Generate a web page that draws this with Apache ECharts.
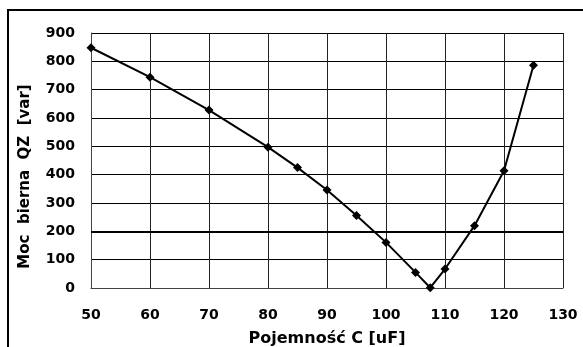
<!DOCTYPE html>
<html>
<head>
<meta charset="utf-8">
<script src="https://cdn.jsdelivr.net/npm/echarts@6/dist/echarts.min.js"></script>
<style>
  html, body { margin: 0; padding: 0; background: #fff; }
  #chart { width: 583px; height: 347px; }
</style>
</head>
<body>
<div id="chart"></div>
<script>
// Capacitance [uF] and reactive power [var]
const capacitance = [50, 60, 70, 80, 85, 90, 95, 100, 105, 107.5, 110, 115, 120, 125];
const reactivePower = [848, 744, 628, 497, 425, 346, 256, 161, 55, 1, 67, 220, 414, 786];
const referenceLevel = 200;

const xTitle = 'Pojemność C [uF]';
const yTitle = 'Moc  bierna  QZ  [var]';

const font = '"DejaVu Sans", Arial, sans-serif';

const chart = echarts.init(document.getElementById('chart'), null, { renderer: 'canvas' });
chart.setOption({
  animation: false,
  backgroundColor: '#fff',
  graphic: [{
    type: 'rect',
    shape: { x: 8, y: 10, width: 700, height: 500 },
    style: { fill: 'none', stroke: '#000', lineWidth: 2 },
    silent: true,
    z: 0
  }],
  grid: {
    left: 91, top: 33, right: 20, bottom: 59,
    containLabel: false, outerBoundsMode: 'none', show: false
  },
  xAxis: {
    type: 'value',
    min: 50, max: 130, interval: 10,
    name: xTitle,
    nameLocation: 'middle',
    nameGap: 43,
    nameTextStyle: { fontFamily: font, fontWeight: 'bold', fontSize: 16, color: '#000' },
    axisLine: { show: true, lineStyle: { color: '#444', width: 1 } },
    axisTick: { show: false },
    axisLabel: { fontFamily: font, fontWeight: 'bold', fontSize: 14, color: '#000', margin: 20 },
    splitLine: { show: true, lineStyle: { color: '#222', width: 1 } }
  },
  yAxis: {
    type: 'value',
    min: 0, max: 900, interval: 100,
    name: yTitle,
    nameLocation: 'middle',
    nameGap: 58,
    nameTextStyle: { fontFamily: font, fontWeight: 'bold', fontSize: 15, color: '#000', padding: [0, 32, 0, 0] },
    axisLine: { show: true, lineStyle: { color: '#444', width: 1 } },
    axisTick: { show: false },
    axisLabel: { fontFamily: font, fontWeight: 'bold', fontSize: 14, color: '#000', margin: 16 },
    splitLine: { show: true, lineStyle: { color: '#000', width: 1 } }
  },
  series: [{
    type: 'line',
    data: capacitance.map((c, i) => [c, reactivePower[i]]),
    symbol: 'diamond',
    symbolSize: 9,
    lineStyle: { color: '#000', width: 2 },
    itemStyle: { color: '#000' },
    z: 5,
    markLine: {
      silent: true,
      symbol: 'none',
      label: { show: false },
      lineStyle: { color: '#000', width: 2, type: 'solid' },
      data: [{ yAxis: referenceLevel }]
    }
  }]
});
</script>
</body>
</html>
